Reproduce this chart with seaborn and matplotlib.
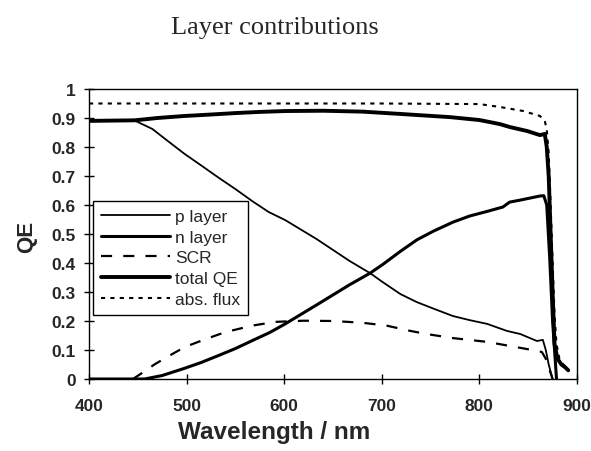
import matplotlib
matplotlib.use("Agg")
import matplotlib.pyplot as plt
import seaborn as sns
import pandas as pd

# Wavelength grids (nm) and quantum-efficiency contributions per layer
wl_p = [400, 430, 447, 465, 481, 498, 516, 532, 550, 567, 584, 601, 633, 667, 688, 701, 719,
        736, 755, 773, 790, 808, 828, 842, 859, 865, 868, 871, 875]
qe_p = [0.89, 0.89, 0.891, 0.862, 0.82, 0.776, 0.734, 0.696, 0.655, 0.614, 0.576, 0.548, 0.483,
        0.407, 0.365, 0.334, 0.293, 0.265, 0.24, 0.217, 0.203, 0.19, 0.166, 0.155, 0.131, 0.135,
        0.1, 0.05, 0.0]

wl_n = [400, 457, 475, 498, 515, 532, 550, 567, 585, 601, 633, 667, 688, 701, 719, 736, 753,
        773, 790, 808, 824, 831, 842, 852, 862, 866, 869, 872, 875, 879]
qe_n = [0.0, 0.0, 0.012, 0.037, 0.057, 0.08, 0.105, 0.132, 0.16, 0.19, 0.255, 0.325, 0.365,
        0.395, 0.44, 0.48, 0.51, 0.541, 0.562, 0.578, 0.593, 0.61, 0.617, 0.624, 0.631, 0.632,
        0.6, 0.42, 0.2, 0.0]

wl_scr = [445, 454, 467, 480, 498, 515, 539, 567, 591, 620, 650, 680, 705, 729, 746, 773, 808,
          831, 859, 864, 868, 872, 875]
qe_scr = [0.0, 0.02, 0.05, 0.076, 0.11, 0.132, 0.161, 0.184, 0.197, 0.201, 0.2, 0.194, 0.184,
          0.166, 0.155, 0.141, 0.128, 0.114, 0.097, 0.093, 0.07, 0.03, 0.0]

wl_tot = [400, 447, 470, 498, 525, 550, 575, 601, 640, 680, 719, 770, 800, 821, 831, 849, 862,
          867, 869, 871, 873, 875, 877, 880, 884, 888, 891]
qe_tot = [0.89, 0.892, 0.9, 0.907, 0.912, 0.917, 0.921, 0.924, 0.925, 0.922, 0.914, 0.903, 0.893,
          0.879, 0.869, 0.855, 0.841, 0.845, 0.8, 0.7, 0.5, 0.3, 0.12, 0.07, 0.05, 0.04, 0.03]

wl_flux = [400, 500, 600, 700, 800, 821, 845, 862, 867, 869, 871, 873, 875, 877, 879, 882, 886, 891]
qe_flux = [0.95, 0.95, 0.95, 0.95, 0.948, 0.938, 0.924, 0.907, 0.89, 0.86, 0.78, 0.6, 0.4, 0.22,
           0.12, 0.07, 0.05, 0.035]

x_ticks = [400, 500, 600, 700, 800, 900]
y_ticks = [0, 0.1, 0.2, 0.3, 0.4, 0.5, 0.6, 0.7, 0.8, 0.9, 1]
y_tick_labels = ["0", "0.1", "0.2", "0.3", "0.4", "0.5", "0.6", "0.7", "0.8", "0.9", "1"]

sns.set_style("white")
plt.rcParams["font.family"] = ["Liberation Sans", "DejaVu Sans"]

fig = plt.figure(figsize=(5.91, 4.52), dpi=100)
ax = fig.add_axes([89 / 591, 1 - 380 / 452, 488 / 591, 290 / 452])

series = [
    ("p layer", wl_p, qe_p, dict(lw=1.3, ls="-")),
    ("n layer", wl_n, qe_n, dict(lw=2.2, ls="-")),
    ("SCR", wl_scr, qe_scr, dict(lw=1.6, ls=(0, (5, 5)))),
    ("total QE", wl_tot, qe_tot, dict(lw=2.8, ls="-")),
    ("abs. flux", wl_flux, qe_flux, dict(lw=1.5, ls=(0, (2, 2.5)))),
]
for name, wl, qe, style in series:
    df = pd.DataFrame({"Wavelength": wl, "QE": qe})
    sns.lineplot(data=df, x="Wavelength", y="QE", ax=ax, color="black",
                 label=name, linewidth=style["lw"], linestyle=style["ls"])

ax.set_xlim(400, 900)
ax.set_ylim(0, 1)
ax.set_xticks(x_ticks)
ax.set_yticks(y_ticks)
ax.set_yticklabels(y_tick_labels)
for lab in ax.get_xticklabels() + ax.get_yticklabels():
    lab.set_fontweight("bold")
    lab.set_fontsize(12.5)
ax.tick_params(axis="both", direction="inout", length=7, width=1, color="black",
               bottom=True, left=True)
ax.tick_params(axis="x", pad=10)
ax.tick_params(axis="y", pad=6)

for sp in ax.spines.values():
    sp.set_visible(True)
    sp.set_color("black")
    sp.set_linewidth(1.0)

ax.set_xlabel("Wavelength / nm", fontsize=17.5, fontweight="bold")
ax.xaxis.set_label_coords((274 - 89) / 488, (380 - 433) / 290)
ax.xaxis.label.set_va("center")
ax.set_ylabel("QE", fontsize=16, fontweight="bold")
ax.yaxis.set_label_coords((27 - 89) / 488, (380 - 237) / 290)
ax.yaxis.label.set_va("center")

leg = ax.legend(loc="upper left", bbox_to_anchor=((93 - 89) / 488, (380 - 202) / 290),
                borderaxespad=0, fontsize=12.5, handlelength=4.0, handletextpad=0.3,
                labelspacing=0.32, borderpad=0.45, fancybox=False, frameon=True)
leg.get_frame().set_edgecolor("black")
leg.get_frame().set_linewidth(1.0)
leg.get_frame().set_alpha(1.0)

fig.text(275 / 591, 1 - 28 / 452, "Layer contributions", ha="center", va="center",
         fontsize=19, family=["Liberation Serif", "DejaVu Serif"])

fig.savefig("out.png", dpi=100, facecolor="white")
